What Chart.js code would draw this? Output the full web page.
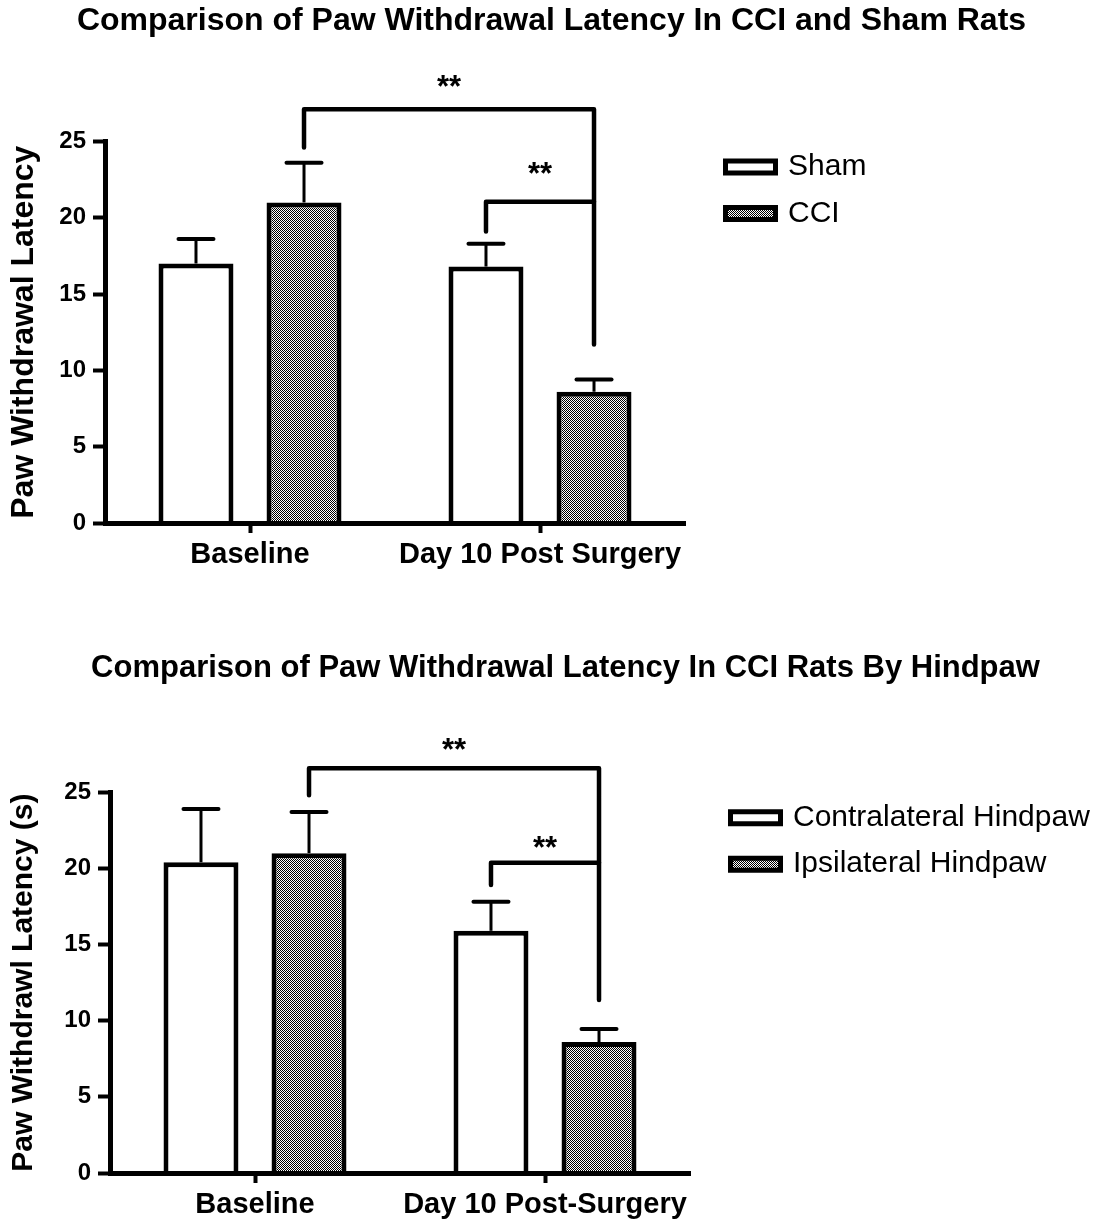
<!DOCTYPE html>
<html>
<head>
<meta charset="utf-8">
<title>Paw Withdrawal Latency</title>
<script src="https://cdn.jsdelivr.net/npm/chart.js@4.4.1/dist/chart.umd.min.js"></script>
<style>
  html, body { margin: 0; padding: 0; background: #fff; overflow: hidden; }
  #wrap { position: relative; width: 1103px; height: 1222px; }
  canvas { position: absolute; left: 0; }
  #shamChart { top: 0; }
  #pawChart { top: 600px; }
</style>
</head>
<body>
<div id="wrap">
  <canvas id="shamChart" width="1103" height="600"></canvas>
  <canvas id="pawChart" width="1103" height="622"></canvas>
</div>
<script>
// ---- data ----
const yTicks = [0, 5, 10, 15, 20, 25];

// sham vs CCI
const shamCategories = ['Baseline', 'Day 10 Post Surgery'];
const shamMeans = [17.0, 16.8];
const shamSem = [1.6, 1.5];
const cciMeans = [21.0, 8.6];
const cciSem = [2.6, 0.8];
// [dataset, category] pairs, bracket height, leg ends, star height
const shamBrackets = [
    { from: [1, 0], to: [1, 1], level: 27.1, fromEnd: 24.6, toEnd: 11.7, stars: '**', starsAt: 28.9 },
    { from: [0, 1], to: [1, 1], level: 21.05, fromEnd: 19.1, toEnd: 21.05, stars: '**', starsAt: 23.2 }
];

// contralateral vs ipsilateral hindpaw
const pawCategories = ['Baseline', 'Day 10 Post-Surgery'];
const contraMeans = [20.4, 15.9];
const contraSem = [3.5, 1.9];
const ipsiMeans = [21.0, 8.6];
const ipsiSem = [2.7, 0.85];
const pawBrackets = [
    { from: [1, 0], to: [1, 1], level: 26.57, fromEnd: 24.8, toEnd: 11.35, stars: '**', starsAt: 28.16 },
    { from: [0, 1], to: [1, 1], level: 20.37, fromEnd: 18.9, toEnd: 20.37, stars: '**', starsAt: 21.67 }
];

const FONT = '"Liberation Sans", Arial, Helvetica, sans-serif';
Chart.defaults.font.family = FONT;
Chart.defaults.color = '#000';
Chart.defaults.animation = false;

// 1px black/white checkerboard used for the filled bars
function dotFill(canvas) {
    const c = document.createElement('canvas');
    c.width = 2;
    c.height = 2;
    const g = c.getContext('2d');
    g.fillStyle = '#fff';
    g.fillRect(0, 0, 2, 2);
    g.fillStyle = '#000';
    g.fillRect(0, 0, 1, 1);
    g.fillRect(1, 1, 1, 1);
    return canvas.getContext('2d').createPattern(c, 'repeat');
}

const errorBars = {
    id: 'errorBars',
    afterDatasetsDraw(chart) {
        const ctx = chart.ctx;
        const y = chart.scales.y;
        chart.data.datasets.forEach((ds, i) => {
            chart.getDatasetMeta(i).data.forEach((bar, j) => {
                const top = y.getPixelForValue(ds.data[j] + ds.errors[j]);
                ctx.save();
                ctx.strokeStyle = '#000';
                ctx.lineWidth = 3;
                ctx.beginPath();
                ctx.moveTo(bar.x, bar.y);
                ctx.lineTo(bar.x, top);
                ctx.stroke();
                ctx.lineWidth = 4;
                ctx.lineCap = 'round';
                ctx.beginPath();
                ctx.moveTo(bar.x - 17.5, top);
                ctx.lineTo(bar.x + 17.5, top);
                ctx.stroke();
                ctx.restore();
            });
        });
    }
};

function bracketPlugin(list) {
    return {
        id: 'brackets',
        afterDraw(chart) {
            const ctx = chart.ctx;
            const y = chart.scales.y;
            list.forEach(b => {
                const x1 = chart.getDatasetMeta(b.from[0]).data[b.from[1]].x;
                const x2 = chart.getDatasetMeta(b.to[0]).data[b.to[1]].x;
                const yl = y.getPixelForValue(b.level);
                ctx.save();
                ctx.strokeStyle = '#000';
                ctx.lineWidth = 4.5;
                ctx.lineCap = 'round';
                ctx.lineJoin = 'round';
                ctx.beginPath();
                ctx.moveTo(x1, y.getPixelForValue(b.fromEnd));
                ctx.lineTo(x1, yl);
                ctx.lineTo(x2, yl);
                ctx.lineTo(x2, y.getPixelForValue(b.toEnd));
                ctx.stroke();
                ctx.fillStyle = '#000';
                ctx.font = 'bold 31px ' + FONT;
                ctx.textAlign = 'center';
                ctx.textBaseline = 'alphabetic';
                ctx.fillText(b.stars, (x1 + x2) / 2, y.getPixelForValue(b.starsAt) + 15.5);
                ctx.restore();
            });
        }
    };
}

// legend boxes to the right of the plot, top-aligned
const sideLegend = {
    id: 'sideLegend',
    afterDraw(chart) {
        const ctx = chart.ctx;
        const area = chart.chartArea;
        chart.data.datasets.forEach((ds, i) => {
            const left = area.right + 38;
            const top = area.top + 17 + i * 46.5;
            ctx.save();
            ctx.fillStyle = ds.backgroundColor;
            ctx.strokeStyle = ds.borderColor;
            ctx.lineWidth = 5;
            ctx.beginPath();
            ctx.rect(left + 2.5, top + 2.5, 50, 12);
            ctx.fill();
            ctx.stroke();
            ctx.fillStyle = '#000';
            ctx.font = '30px ' + FONT;
            ctx.textAlign = 'left';
            ctx.textBaseline = 'middle';
            ctx.fillText(ds.label, left + 65, top + 8.5);
            ctx.restore();
        });
    }
};

function makeOptions(cfg) {
    return {
        responsive: false,
        layout: { padding: { left: cfg.padLeft, right: 0, top: 0, bottom: 0 } },
        datasets: { bar: { categoryPercentage: 0.745, barPercentage: 0.694 } },
        plugins: {
            legend: { display: false },
            tooltip: { enabled: false },
            title: {
                display: true,
                text: cfg.title,
                font: { size: cfg.titleSize, weight: 'bold' },
                color: '#000',
                padding: { top: cfg.titleTop, bottom: cfg.titleBottom }
            }
        },
        scales: {
            x: {
                afterFit(scale) { scale.height = cfg.xHeight; },
                ticks: { font: { size: 29, weight: 'bold' }, color: '#000', padding: 5, maxRotation: 0, autoSkip: false },
                grid: { offset: false, drawOnChartArea: false, tickLength: 10, tickWidth: 4, tickColor: '#000' },
                // axis line sits on top of the bar bottoms
                border: { color: '#000', width: 5, z: 1 }
            },
            y: {
                min: 0,
                max: 25,
                afterFit(scale) { scale.width = cfg.yWidth; },
                afterBuildTicks(scale) { scale.ticks = yTicks.map(v => ({ value: v })); },
                ticks: { font: { size: 24, weight: 'bold' }, color: '#000', padding: 7 },
                grid: { drawOnChartArea: false, tickLength: 12, tickWidth: 4, tickColor: '#000' },
                border: { color: '#000', width: 5 },
                title: {
                    display: true,
                    text: cfg.yTitle,
                    font: { size: cfg.yTitleSize, weight: 'bold' },
                    color: '#000',
                    padding: { top: cfg.yTitlePad, bottom: 0 }
                }
            },
            // empty right-hand room that holds the legend
            room: {
                position: 'right',
                afterFit(scale) { scale.width = cfg.rightRoom; },
                ticks: { display: false },
                grid: { display: false },
                border: { display: false }
            }
        }
    };
}

const shamCanvas = document.getElementById('shamChart');
const shamChart = new Chart(shamCanvas, {
    type: 'bar',
    data: {
        labels: shamCategories,
        datasets: [
            { label: 'Sham', data: shamMeans, errors: shamSem, backgroundColor: '#fff', borderColor: '#000', borderWidth: 5, borderSkipped: 'start' },
            { label: 'CCI', data: cciMeans, errors: cciSem, backgroundColor: dotFill(shamCanvas), borderColor: '#000', borderWidth: 5, borderSkipped: 'start' }
        ]
    },
    options: makeOptions({
        title: 'Comparison of Paw Withdrawal Latency In CCI and Sham Rats',
        titleSize: 32,
        yTitle: 'Paw Withdrawal Latency',
        yTitleSize: 32,
        padLeft: 0, yWidth: 105, yTitlePad: 5, rightRoom: 418,
        titleTop: 2, titleBottom: 101, xHeight: 77
    }),
    plugins: [errorBars, bracketPlugin(shamBrackets), sideLegend]
});

const pawCanvas = document.getElementById('pawChart');
const pawChart = new Chart(pawCanvas, {
    type: 'bar',
    data: {
        labels: pawCategories,
        datasets: [
            { label: 'Contralateral Hindpaw', data: contraMeans, errors: contraSem, backgroundColor: '#fff', borderColor: '#000', borderWidth: 5, borderSkipped: 'start' },
            { label: 'Ipsilateral Hindpaw', data: ipsiMeans, errors: ipsiSem, backgroundColor: dotFill(pawCanvas), borderColor: '#000', borderWidth: 5, borderSkipped: 'start' }
        ]
    },
    options: makeOptions({
        title: 'Comparison of Paw Withdrawal Latency In CCI Rats By Hindpaw',
        titleSize: 31,
        yTitle: 'Paw Withdrawl Latency (s)',
        yTitleSize: 30,
        padLeft: 28, yWidth: 82, yTitlePad: -22, rightRoom: 413,
        titleTop: 50, titleBottom: 105, xHeight: 49
    }),
    plugins: [errorBars, bracketPlugin(pawBrackets), sideLegend]
});
</script>
</body>
</html>
